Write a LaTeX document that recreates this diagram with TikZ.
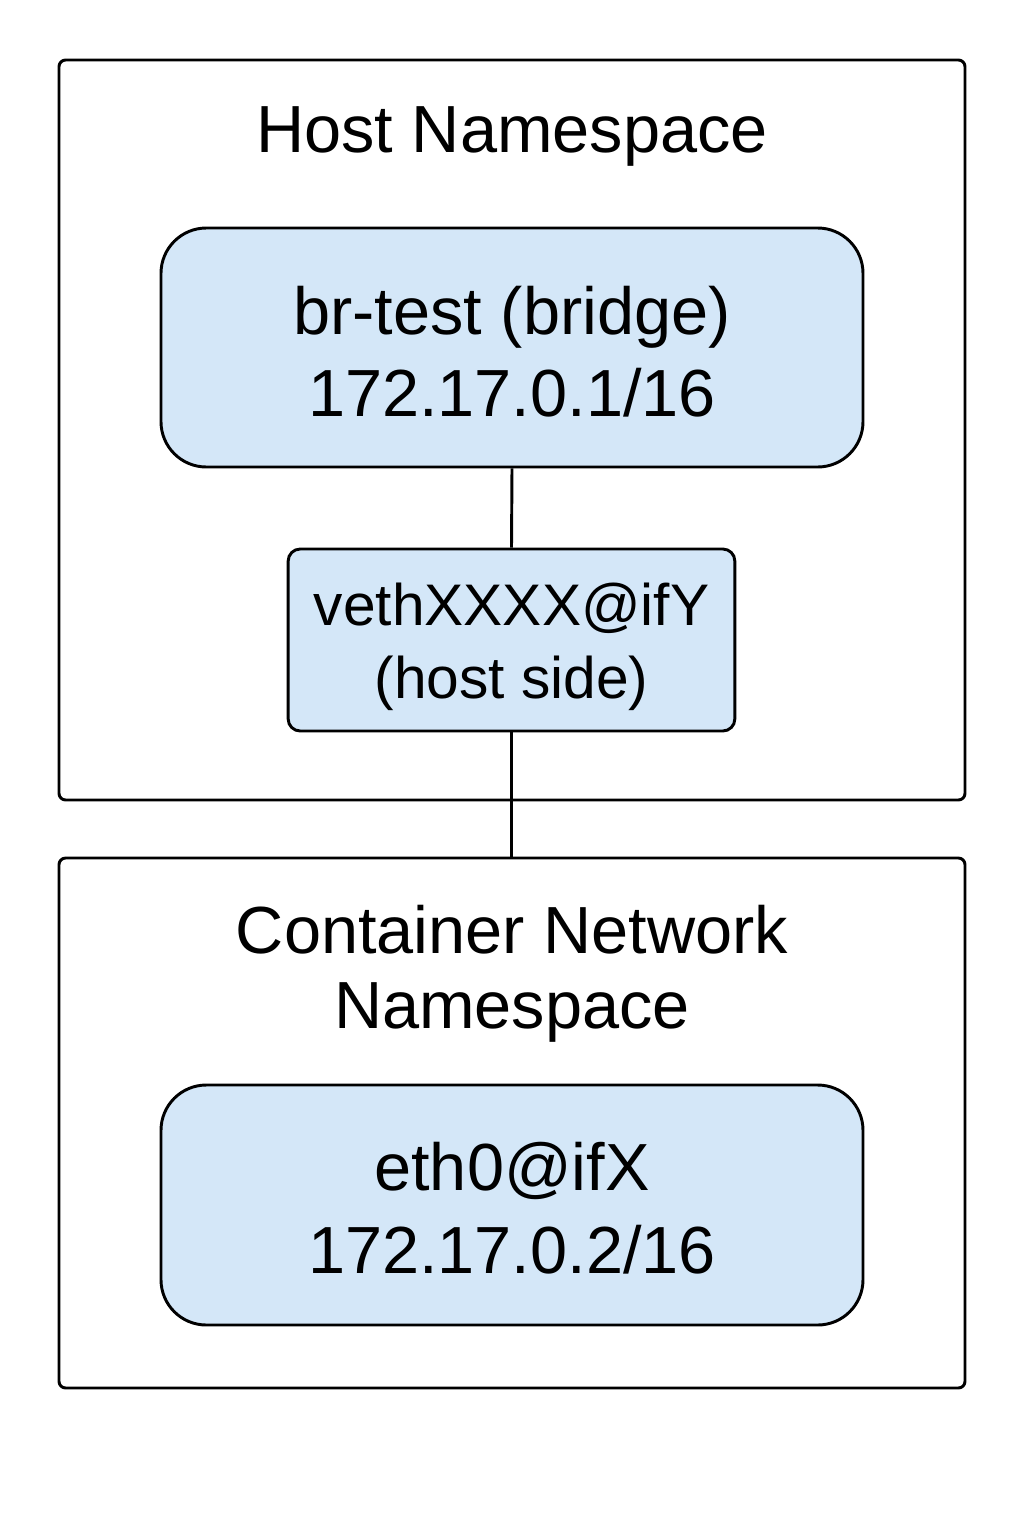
\documentclass[tikz,border=0pt]{standalone}
\usepackage{fontspec}
\setmainfont{Liberation Sans}
\definecolor{ifblue}{HTML}{D4E7F8}
\tikzset{
  nsbox/.style={draw, line width=2.2pt, rounded corners=5pt},
  ifbox/.style={draw, line width=2.2pt, fill=ifblue, align=center},
  nstitle/.style={align=center, font=\fontsize{50}{56}\selectfont},
}
\begin{document}
\begin{tikzpicture}[x=0.75pt,y=-0.75pt]
  \useasboundingbox (0,0) rectangle (1024,1536);
  % namespaces
  \node (host) [nsbox, minimum width=679.5pt, minimum height=555pt] at (512,430) {};
  \node (cont) [nsbox, minimum width=679.5pt, minimum height=397.5pt] at (512,1123) {};
  \node (hosttitle) [nstitle] at (512,136) {Host Namespace};
  \node (conttitle) [nstitle] at (512,974) {Container Network\\Namespace};
  % interfaces
  \node (bridge) [ifbox, rounded corners=34pt, minimum width=526.5pt, minimum height=179.25pt,
    font=\fontsize{50}{62}\selectfont] at (512,347.5) {};
  \node (bridgetext) [align=center, font=\fontsize{50}{62}\selectfont] at (512,351.5)
    {br-test (bridge)\\172.17.0.1/16};
  \node (veth) [ifbox, rounded corners=9pt, minimum width=335pt, minimum height=136.5pt] at (511.5,640) {};
  \node (vethtext) [align=center, font=\fontsize{44}{55}\selectfont] at (511.5,647)
    {vethXXXX@ifY\\(host side)};
  \node (eth) [ifbox, rounded corners=34pt, minimum width=526.5pt, minimum height=180pt] at (512,1205) {};
  \node (ethtext) [align=center, font=\fontsize{50}{62}\selectfont] at (512,1208)
    {eth0@ifX\\172.17.0.2/16};
  % links
  \draw[line width=2.2pt] (bridge.south) -- (veth.north);
  \draw[line width=2.2pt] (veth.south) -- (veth.south |- cont.north);
\end{tikzpicture}
\end{document}
